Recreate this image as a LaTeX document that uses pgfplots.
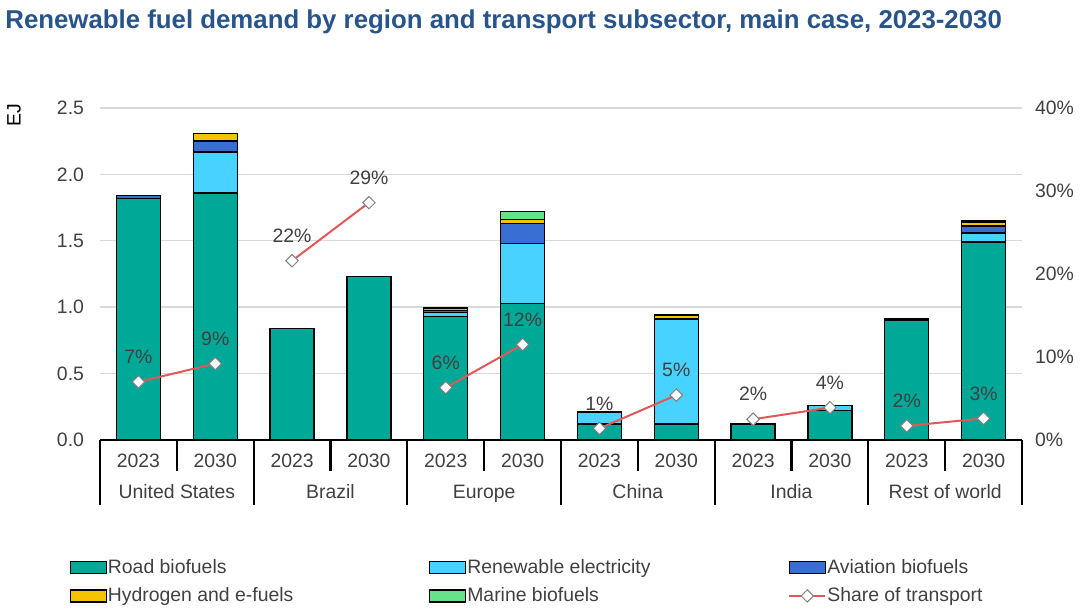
\documentclass[border=0pt]{standalone}
\usepackage{fontspec}
\setmainfont{Liberation Sans}
\usepackage{pgfplots}
\pgfplotsset{compat=1.18}
\definecolor{road}{RGB}{0,168,152}
\definecolor{elec}{RGB}{72,210,255}
\definecolor{avia}{RGB}{56,110,210}
\definecolor{hydro}{RGB}{245,196,0}
\definecolor{marine}{RGB}{100,226,140}
\definecolor{sharered}{RGB}{226,88,88}
\definecolor{titleblue}{RGB}{40,84,140}
\definecolor{tickgray}{RGB}{64,64,64}
\definecolor{gridgray}{RGB}{217,217,217}
\newcommand{\tf}{\fontsize{9.7}{11.6}\selectfont}
\pgfplotsset{
  mybar/.style={fill=#1, draw=black, line width=0.7pt,
    legend image code/.code={\draw[##1] (0pt,-3pt) rectangle (18pt,3pt);}},
  sharelegend/.style={legend image code/.code={%
    \draw[sharered, line width=1pt] (0pt,0pt) -- (18pt,0pt);
    \draw[fill=white, draw=gray, line width=0.5pt] (9pt,3.1pt) -- (12.1pt,0pt) -- (9pt,-3.1pt) -- (5.9pt,0pt) -- cycle;}},
}
\begin{document}
\begin{tikzpicture}[x=1pt,y=1pt]
\path[use as bounding box] (0,0) rectangle (540,306.5);
\node[anchor=west, inner sep=0, font=\bfseries\fontsize{12.9}{15}\selectfont, text=titleblue] at (2.5,295.5) {Renewable fuel demand by region and transport subsector, main case, 2023-2030};
\node[rotate=90, inner sep=0, font=\tf, text=black] at (7,249) {EJ};
\begin{axis}[
  at={(50pt,86.5pt)}, anchor=south west, scale only axis,
  width=461pt, height=166pt,
  xmin=-0.5, xmax=11.5, ymin=0, ymax=2.5,
  ytick={0,0.5,1,1.5,2,2.5},
  yticklabel style={/pgf/number format/.cd, fixed, fixed zerofill, precision=1, assume math mode=true, /tikz/.cd, font=\tf, text=tickgray, xshift=-4.5pt},
  xtick={0,1,2,3,4,5,6,7,8,9,10,11},
  xticklabels={2023,2030,2023,2030,2023,2030,2023,2030,2023,2030,2023,2030},
  xticklabel style={font=\tf, text=tickgray, anchor=center, yshift=-10.3pt},
  axis line style={draw=none}, major tick length=0,
  ymajorgrids, grid style={gridgray, line width=0.7pt},
  ybar stacked, bar width=22pt,
  clip=false,
  legend columns=3,
  legend style={at={(-0.040,-0.343)}, anchor=north west, draw=none, fill=none, font=\tf, text=tickgray,
    /tikz/every even column/.append style={column sep=0pt},
    /tikz/every odd column/.append style={column sep=0pt},
    /tikz/row sep=4.5pt, nodes={inner sep=0.5pt}},
]
\addplot[mybar=road] coordinates {(0,1.82) (1,1.86) (2,0.84) (3,1.23) (4,0.93) (5,1.03) (6,0.12) (7,0.12) (8,0.12) (9,0.22) (10,0.90) (11,1.49)};
\addplot[mybar=elec] coordinates {(0,0) (1,0.31) (2,0) (3,0) (4,0.03) (5,0.45) (6,0.09) (7,0.79) (8,0) (9,0.04) (10,0) (11,0.07)};
\addplot[mybar=avia] coordinates {(0,0.02) (1,0.08) (2,0) (3,0) (4,0.015) (5,0.15) (6,0) (7,0) (8,0) (9,0) (10,0.01) (11,0.05)};
\addplot[mybar=hydro] coordinates {(0,0) (1,0.06) (2,0) (3,0) (4,0) (5,0.03) (6,0) (7,0.03) (8,0) (9,0) (10,0) (11,0.03)};
\addplot[mybar=marine] coordinates {(0,0) (1,0) (2,0) (3,0) (4,0.02) (5,0.06) (6,0) (7,0) (8,0) (9,0) (10,0) (11,0.01)};
\addlegendentry{\makebox[160pt][l]{Road biofuels}}
\addlegendentry{\makebox[160pt][l]{Renewable electricity}}
\addlegendentry{\makebox[110pt][l]{Aviation biofuels}}
\addlegendentry{\makebox[160pt][l]{Hydrogen and e-fuels}}
\addlegendentry{\makebox[160pt][l]{Marine biofuels}}
\addlegendimage{sharelegend}
\addlegendentry{\makebox[110pt][l]{Share of transport}}
% category structure
\draw[line width=1.1pt] (axis cs:-0.5,0) -- (axis cs:11.5,0);
\draw[line width=1.1pt] (axis cs:-0.5,0) -- (axis cs:-0.5,-0.49);
\draw[line width=1.1pt] (axis cs:1.5,0) -- (axis cs:1.5,-0.49);
\draw[line width=1.1pt] (axis cs:3.5,0) -- (axis cs:3.5,-0.49);
\draw[line width=1.1pt] (axis cs:5.5,0) -- (axis cs:5.5,-0.49);
\draw[line width=1.1pt] (axis cs:7.5,0) -- (axis cs:7.5,-0.49);
\draw[line width=1.1pt] (axis cs:9.5,0) -- (axis cs:9.5,-0.49);
\draw[line width=1.1pt] (axis cs:11.5,0) -- (axis cs:11.5,-0.49);
\draw[line width=1.1pt] (axis cs:0.5,0) -- (axis cs:0.5,-0.235);
\draw[line width=1.1pt] (axis cs:2.5,0) -- (axis cs:2.5,-0.235);
\draw[line width=1.1pt] (axis cs:4.5,0) -- (axis cs:4.5,-0.235);
\draw[line width=1.1pt] (axis cs:6.5,0) -- (axis cs:6.5,-0.235);
\draw[line width=1.1pt] (axis cs:8.5,0) -- (axis cs:8.5,-0.235);
\draw[line width=1.1pt] (axis cs:10.5,0) -- (axis cs:10.5,-0.235);
\node[font=\tf, text=tickgray, anchor=base] at (axis cs:0.5,-0.44) {United States};
\node[font=\tf, text=tickgray, anchor=base] at (axis cs:2.5,-0.44) {Brazil};
\node[font=\tf, text=tickgray, anchor=base] at (axis cs:4.5,-0.44) {Europe};
\node[font=\tf, text=tickgray, anchor=base] at (axis cs:6.5,-0.44) {China};
\node[font=\tf, text=tickgray, anchor=base] at (axis cs:8.5,-0.44) {India};
\node[font=\tf, text=tickgray, anchor=base] at (axis cs:10.5,-0.44) {Rest of world};
\end{axis}
\begin{axis}[
  at={(50pt,86.5pt)}, anchor=south west, scale only axis,
  width=461pt, height=166pt,
  xmin=-0.5, xmax=11.5, ymin=0, ymax=40,
  xtick=\empty,
  ytick={0,10,20,30,40},
  yticklabel pos=right,
  yticklabel={\pgfmathprintnumber{\tick}\%},
  yticklabel style={/pgf/number format/assume math mode=true, font=\tf, text=tickgray, xshift=3pt},
  axis line style={draw=none}, major tick length=0,
  clip=false,
  share/.style={sharered, line width=1pt, mark=square*, mark size=2.2pt,
    mark options={fill=white, draw=gray, line width=0.5pt, rotate=45},
    nodes near coords, point meta=explicit symbolic,
    every node near coord/.style={font=\tf, text=tickgray, anchor=center, yshift=12.5pt}},
]
\addplot[share] coordinates {(0,7.0) [7\%] (1,9.2) [9\%]};
\addplot[share] coordinates {(2,21.6) [22\%] (3,28.6) [29\%]};
\addplot[share] coordinates {(4,6.3) [6\%] (5,11.5) [12\%]};
\addplot[share] coordinates {(6,1.4) [1\%] (7,5.4) [5\%]};
\addplot[share] coordinates {(8,2.5) [2\%] (9,3.9) [4\%]};
\addplot[share] coordinates {(10,1.7) [2\%] (11,2.6) [3\%]};
\end{axis}
\end{tikzpicture}
\end{document}
